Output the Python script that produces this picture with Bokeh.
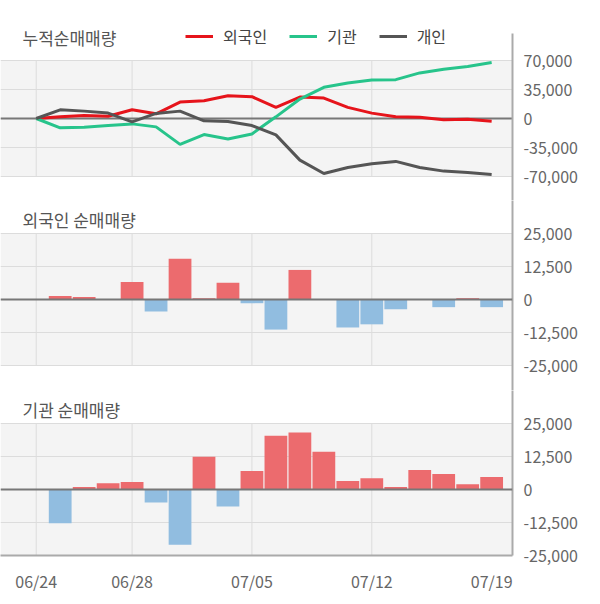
from bokeh.plotting import figure
from bokeh.layouts import column
from bokeh.embed import file_html
from bokeh.resources import INLINE
from bokeh.models import (Range1d, LinearAxis, FixedTicker, Grid, BoxAnnotation, Span,
                          Label, Legend, LegendItem, ColumnDataSource, NumeralTickFormatter)

# ---------------- data ----------------
DATES = ["06/24", "06/25", "06/26", "06/27", "06/28", "07/01", "07/02", "07/03", "07/04", "07/05",
         "07/08", "07/09", "07/10", "07/11", "07/12", "07/15", "07/16", "07/17", "07/18", "07/19"]
DATE_TICKS = [0, 4, 9, 14, 19]
GRID_IDX = [0, 4, 9, 14]

FOREIGN_CUM = [0, 2000, 3600, 2800, 10500, 5700, 19800, 21400, 27500, 26300,
               13400, 25900, 24700, 13400, 6500, 2000, 1600, -1600, -800, -3200]
INST_CUM = [0, -11300, -10500, -8500, -6500, -10100, -31200, -19400, -24700, -18600,
            2000, 23500, 37600, 42900, 46500, 46900, 55000, 59500, 62700, 67600]
INDIV_CUM = [0, 10500, 8900, 6500, -4000, 6100, 8900, -2800, -3600, -8500,
             -19800, -50200, -66400, -59100, -54600, -51800, -59100, -63500, -65100, -67600]

FOREIGN_NET = [0, 1300, 900, 0, 6600, -4500, 15400, 500, 6300, -1400,
               -11400, 11200, 0, -10600, -9400, -3700, 0, -2900, 500, -2900]
INST_NET = [0, -12800, 900, 2400, 2800, -4900, -20900, 12400, -6400, 7000,
            20400, 21600, 14300, 3200, 4300, 900, 7400, 5900, 2000, 4700]

CUM_TICKS = [-70000, -35000, 0, 35000, 70000]
NET_TICKS = [-25000, -12500, 0, 12500, 25000]

TITLES = ["누적순매매량", "외국인 순매매량", "기관 순매매량"]
SERIES = ["외국인", "기관", "개인"]

# ---------------- style ----------------
FONT = "Noto Sans CJK KR"
BG = "#f4f4f4"
GRID = "#dcdcdc"
AXIS = "#aaaaaa"
ZERO = "#777777"
RED_LINE = "#e6141b"
GREEN_LINE = "#27c48b"
GRAY_LINE = "#555555"
BAR_POS = "#ec6b6e"
BAR_NEG = "#91bde0"

X_START, X_END = -1.49, 19.87
idx = list(range(len(DATES)))


def base_fig(height, y_start, y_end, border_bottom):
    p = figure(width=600, height=height, x_range=Range1d(X_START, X_END),
               y_range=Range1d(y_start, y_end), output_backend="svg",
               toolbar_location=None, x_axis_location=None, y_axis_location=None,
               min_border_left=0, min_border_right=88, min_border_top=0,
               min_border_bottom=border_bottom)
    p.outline_line_color = None
    p.background_fill_color = "white"
    p.border_fill_color = "white"
    p.xgrid.grid_line_color = None
    p.ygrid.grid_line_color = None
    return p


def decorate(p, ticks, lo, hi, bounds, title, title_y, zero_level):
    p.add_layout(BoxAnnotation(top=hi, bottom=lo, fill_color=BG, fill_alpha=1,
                               line_color=None, level="image"))
    p.add_layout(Grid(dimension=1, ticker=FixedTicker(ticks=ticks),
                      grid_line_color=GRID, grid_line_width=1))
    p.segment(x0=GRID_IDX, y0=[lo] * len(GRID_IDX), x1=GRID_IDX, y1=[hi] * len(GRID_IDX),
              line_color=GRID, line_width=1, level="underlay")
    p.add_layout(Span(location=0, dimension="width", line_color=ZERO, line_width=2,
                      level=zero_level))
    ax = LinearAxis(ticker=FixedTicker(ticks=ticks),
                    formatter=NumeralTickFormatter(format="0,0"),
                    axis_line_color=AXIS, axis_line_width=2,
                    major_tick_line_color=None, minor_tick_line_color=None,
                    major_tick_in=0, major_tick_out=0,
                    major_label_standoff=11,
                    major_label_text_font=FONT, major_label_text_font_size="16px",
                    major_label_text_color="#666666")
    if bounds is not None:
        ax.bounds = bounds
    p.add_layout(ax, "right")
    p.add_layout(Label(x=22, y=title_y, x_units="screen", y_units="screen", text=title,
                       text_font=FONT, text_font_size="17px", text_color="#555555",
                       text_baseline="middle", text_align="left"))


# ---------- panel 1: cumulative (frame y 0..200, plot band 60..176) ----------
k1 = 140000 / 116.0
p1 = base_fig(200, -70000 - 24 * k1, 70000 + 60 * k1, 0)
decorate(p1, CUM_TICKS, -70000, 70000, (-70000 - 24 * k1, 70000 + 27 * k1),
         TITLES[0], 200 - 37, "underlay")
src = ColumnDataSource(dict(x=idx, f=FOREIGN_CUM, i=INST_CUM, p=INDIV_CUM))
r_f = p1.line("x", "f", source=src, line_color=RED_LINE, line_width=3)
r_i = p1.line("x", "i", source=src, line_color=GREEN_LINE, line_width=3)
r_p = p1.line("x", "p", source=src, line_color=GRAY_LINE, line_width=3)
legend = Legend(items=[LegendItem(label=SERIES[0], renderers=[r_f]),
                       LegendItem(label=SERIES[1], renderers=[r_i]),
                       LegendItem(label=SERIES[2], renderers=[r_p])],
                location=(185, 200 - 48), orientation="horizontal",
                padding=0, margin=0, spacing=22, glyph_width=28, glyph_height=20,
                label_height=20, label_standoff=10, label_text_font=FONT,
                label_text_font_size="16px", label_text_color="#444444",
                background_fill_alpha=0, border_line_color=None)
p1.add_layout(legend)

# ---------- panel 2: foreign net (frame y 200..390, band 233..365) ----------
k2 = 50000 / 132.0
p2 = base_fig(190, -25000 - 25 * k2, 25000 + 33 * k2, 0)
decorate(p2, NET_TICKS, -25000, 25000, None, TITLES[1], 390 - 219, "annotation")
fcol = [BAR_POS if v >= 0 else BAR_NEG for v in FOREIGN_NET]
p2.vbar(x=idx, top=FOREIGN_NET, bottom=0, width=0.95, fill_color=fcol, line_color=None)

# ---------- panel 3: institution net (frame y 390..555, band 423..555) ----------
p3 = base_fig(214, -25000, 25000 + 33 * k2, 49)
decorate(p3, NET_TICKS, -25000, 25000, None, TITLES[2], 555 - 409, "annotation")
icol = [BAR_POS if v >= 0 else BAR_NEG for v in INST_NET]
p3.vbar(x=idx, top=INST_NET, bottom=0, width=0.95, fill_color=icol, line_color=None)
xax = LinearAxis(ticker=FixedTicker(ticks=DATE_TICKS),
                 major_label_overrides={i: DATES[i] for i in DATE_TICKS},
                 axis_line_color=AXIS, axis_line_width=2,
                 major_tick_line_color=None, minor_tick_line_color=None,
                 major_tick_in=0, major_tick_out=0, major_label_standoff=13,
                 major_label_text_font=FONT, major_label_text_font_size="16px",
                 major_label_text_color="#666666")
p3.add_layout(xax, "below")

layout = column(p1, p2, p3, spacing=0)
open("out.html", "w").write(file_html(layout, INLINE))
